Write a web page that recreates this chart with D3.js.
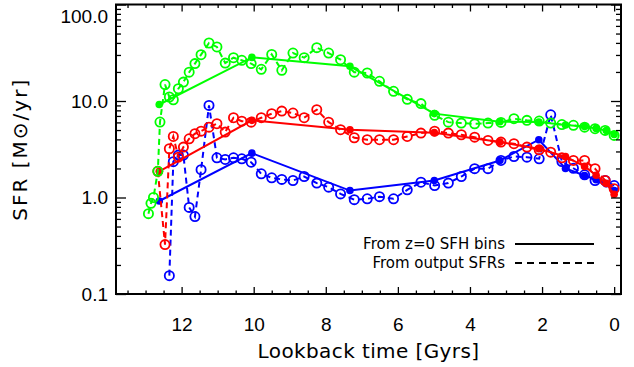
<!DOCTYPE html>
<html>
<head>
<meta charset="utf-8">
<script src="https://cdn.jsdelivr.net/npm/d3@7.9.0/dist/d3.min.js"></script>
<style>
  body { margin: 0; background: #fff; }
  svg { display: block; font-family: "DejaVu Sans", sans-serif; }
</style>
</head>
<body>
<svg id="chart"></svg>
<script>
// snapshot lookback times (Gyr) for the "output SFR" circles
const snapTimes = [12.92, 12.85, 12.78, 12.66, 12.60, 12.46, 12.34, 12.23, 12.09, 11.95,
    11.79, 11.63, 11.46, 11.24, 11.02, 10.79, 10.56, 10.33, 10.07, 9.79,
    9.50, 9.22, 8.91, 8.60, 8.25, 7.92, 7.59, 7.21, 6.85, 6.51,
    6.12, 5.74, 5.36, 4.98, 4.60, 4.24, 3.87, 3.50, 3.14, 2.78,
    2.42, 2.08, 1.76, 1.45, 1.13, 0.82, 0.53, 0.25, 0.0];

const greenSnap = [0.68, 0.87, 1.0, 1.87, 6.05, 14.8, 11.0, 10.3, 13.4, 15.7,
    19.9, 24.4, 30.2, 39.9, 36.3, 24.7, 28.1, 26.4, 24.4, 21.3,
    30.4, 20.8, 31.4, 28.1, 35.7, 31.4, 26.8, 19.9, 19.5, 16.0,
    12.6, 10.4, 9.4, 7.1, 6.04, 5.9, 5.8, 5.9, 6.0, 6.55,
    6.3, 6.2, 5.9, 5.7, 5.6, 5.36, 5.16, 4.96, 4.4];

const redSnap = [null, null, null, 1.87, null, 0.325, 3.2, 4.29, 2.62, 3.33,
    4.06, 4.58, 4.87, 5.36, 5.82, 4.76, 6.71, 6.18, 6.04, 6.71,
    7.39, 7.86, 7.5, 6.71, 8.13, 6.04, 5.04, 4.16, 3.97, 3.97,
    3.97, 4.29, 4.65, 4.87, 4.65, 4.47, 4.22, 3.9, 3.75, 3.61,
    3.33, 3.12, 2.95, 2.58, 2.42, 2.42, 1.99, 1.5, 1.23];

const blueSnap = [null, null, null, null, null, null, 0.155, 2.35, 2.75, 2.75,
    0.79, 0.635, 1.94, 9.0, 2.58, 2.48, 2.58, 2.52, 2.32, 1.76,
    1.6, 1.54, 1.5, 1.65, 1.41, 1.28, 1.09, 0.95, 0.97, 1.02,
    0.97, 1.2, 1.44, 1.33, 1.41, 1.65, 1.99, 1.99, 2.42, 2.66,
    2.62, 2.52, 7.2, 2.36, 2.01, 1.72, 1.5, 1.5, 1.33];

// SFH bins at z=0 (solid lines, filled dots)
const binTimes = [12.62, 10.05, 7.33, 4.99, 3.17, 2.09, 1.35, 0.82, 0.50, 0.22, 0.0];
const greenBins = [9.2, 28.3, 22.9, 7.4, 6.1, 6.05, 5.65, 5.45, 5.2, 4.95, 4.5];
const redBins = [1.87, 6.3, 5.04, 4.7, 3.75, 3.2, 2.65, 2.1, 1.7, 1.4, 1.08];
const blueBins = [0.92, 2.88, 1.18, 1.5, 2.42, 3.97, 2.0, 1.69, 1.53, 1.39, 1.18];

const xTicks = [12, 10, 8, 6, 4, 2, 0];
const yTicks = [0.1, 1, 10, 100];

const W = 634, H = 367;
const margin = { top: 4.5, right: 13, bottom: 73, left: 116 };

const svg = d3.select("#chart")
    .attr("width", W)
    .attr("height", H);

const x = d3.scaleLinear()
    .domain([13.82, -0.19])
    .range([margin.left, W - margin.right]);

const y = d3.scaleLog()
    .domain([0.1, 100])
    .range([H - margin.bottom, margin.top]);

const series = [
    { color: "#0000ff", snap: blueSnap, bins: blueBins },
    { color: "#ff0000", snap: redSnap, bins: redBins },
    { color: "#00ff00", snap: greenSnap, bins: greenBins }
];

const line = d3.line()
    .x(d => x(d.t))
    .y(d => y(d.v));

const plot = svg.append("g");

series.forEach(s => {
    const pts = snapTimes.map((t, i) => ({ t, v: s.snap[i] })).filter(d => d.v != null);
    const bins = binTimes.map((t, i) => ({ t, v: s.bins[i] }));

    // output SFRs: dashed line + open circles
    plot.append("path")
        .datum(pts)
        .attr("d", line)
        .attr("fill", "none")
        .attr("stroke", s.color)
        .attr("stroke-width", 2)
        .attr("stroke-dasharray", "6,4");

    plot.selectAll(null)
        .data(pts)
        .enter()
        .append("circle")
        .attr("cx", d => x(d.t))
        .attr("cy", d => y(d.v))
        .attr("r", 4.6)
        .attr("fill", "none")
        .attr("stroke", s.color)
        .attr("stroke-width", 1.8);

    // SFH bins: solid line + filled dots
    plot.append("path")
        .datum(bins)
        .attr("d", line)
        .attr("fill", "none")
        .attr("stroke", s.color)
        .attr("stroke-width", 2);

    plot.selectAll(null)
        .data(bins)
        .enter()
        .append("circle")
        .attr("cx", d => x(d.t))
        .attr("cy", d => y(d.v))
        .attr("r", 3.8)
        .attr("fill", s.color);
});

// axes (ticks pointing inward)
const bottom = H - margin.bottom, right = W - margin.right;
const minorX = d3.range(0, 13.9, 0.5).filter(v => v % 2 !== 0);
const minorY = [];
[0.1, 1, 10].forEach(d => d3.range(2, 10).forEach(k => minorY.push(d * k)));

function clean(g) {
    g.select(".domain").remove();
    g.selectAll(".tick line").attr("stroke", "#000").attr("stroke-width", 1.3);
}

svg.append("g")
    .attr("transform", `translate(0,${bottom})`)
    .call(d3.axisBottom(x).tickValues(xTicks).tickSize(-7).tickPadding(24).tickFormat(d3.format("d")))
    .call(clean)
    .selectAll("text")
    .attr("font-size", 19)
    .attr("fill", "#000");

svg.append("g")
    .attr("transform", `translate(0,${bottom})`)
    .call(d3.axisBottom(x).tickValues(minorX).tickSize(-3.5).tickFormat(""))
    .call(clean);

svg.append("g")
    .attr("transform", `translate(0,${margin.top})`)
    .call(d3.axisTop(x).tickValues(xTicks).tickSize(-7).tickFormat(""))
    .call(clean);

svg.append("g")
    .attr("transform", `translate(0,${margin.top})`)
    .call(d3.axisTop(x).tickValues(minorX).tickSize(-3.5).tickFormat(""))
    .call(clean);

svg.append("g")
    .attr("transform", `translate(${margin.left},0)`)
    .call(d3.axisLeft(y).tickValues(yTicks).tickSize(-10).tickPadding(8).tickFormat(d3.format(".1f")))
    .call(clean)
    .selectAll("text")
    .attr("font-size", 19)
    .attr("fill", "#000")
    // the top label sits just inside the page
    .attr("dy", d => d === 100 ? "0.95em" : "0.32em");

svg.append("g")
    .attr("transform", `translate(${margin.left},0)`)
    .call(d3.axisLeft(y).tickValues(minorY).tickSize(-5).tickFormat(""))
    .call(clean);

svg.append("g")
    .attr("transform", `translate(${right},0)`)
    .call(d3.axisRight(y).tickValues(yTicks).tickSize(-10).tickFormat(""))
    .call(clean);

svg.append("g")
    .attr("transform", `translate(${right},0)`)
    .call(d3.axisRight(y).tickValues(minorY).tickSize(-5).tickFormat(""))
    .call(clean);

// frame
svg.append("rect")
    .attr("x", margin.left)
    .attr("y", margin.top)
    .attr("width", right - margin.left)
    .attr("height", bottom - margin.top)
    .attr("fill", "none")
    .attr("stroke", "#000")
    .attr("stroke-width", 2);

// axis titles
svg.append("text")
    .attr("x", (margin.left + right) / 2)
    .attr("y", 358)
    .attr("text-anchor", "middle")
    .attr("font-size", 20)
    .style("letter-spacing", "0.4px")
    .text("Lookback time [Gyrs]");

svg.append("text")
    .attr("transform", `translate(27,${(margin.top + bottom) / 2}) rotate(-90)`)
    .attr("text-anchor", "middle")
    .attr("font-size", 20)
    .style("letter-spacing", "2px")
    .text("SFR [M\u2299/yr]");

// legend
const legendItems = [
    { label: "From z=0 SFH bins", dash: null },
    { label: "From output SFRs", dash: "7,5" }
];

const legend = svg.append("g");

legend.selectAll("text")
    .data(legendItems)
    .enter()
    .append("text")
    .attr("x", 505)
    .attr("y", (d, i) => 249 + i * 19)
    .attr("text-anchor", "end")
    .attr("font-size", 15)
    .text(d => d.label);

legend.selectAll("line")
    .data(legendItems)
    .enter()
    .append("line")
    .attr("x1", 515)
    .attr("x2", 594)
    .attr("y1", (d, i) => 244 + i * 19)
    .attr("y2", (d, i) => 244 + i * 19)
    .attr("stroke", "#000")
    .attr("stroke-width", 1.8)
    .attr("stroke-dasharray", d => d.dash);
</script>
</body>
</html>
